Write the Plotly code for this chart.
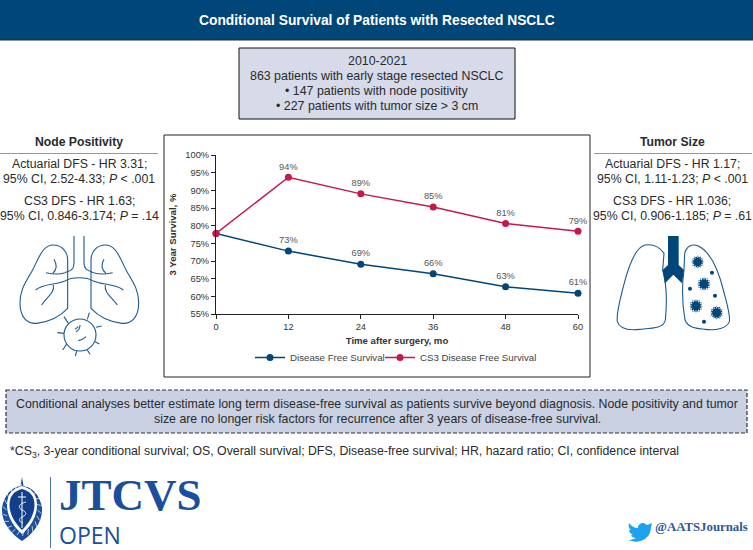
import math
import re
import plotly.graph_objects as go

W, H = 753, 550
# plot area in page pixels
L, R, T, B = 216, 578, 155, 314

months = [0, 12, 24, 36, 48, 60]
dfs = [77.8, 72.8, 69.1, 66.4, 62.7, 60.9]
cs3_dfs = [77.8, 93.7, 89.0, 85.3, 80.6, 78.4]
# first point (month 0) carries no label
dfs_labels = ["73%", "69%", "66%", "63%", "61%"]
cs3_labels = ["94%", "89%", "85%", "81%", "79%"]
y_ticks = [55, 60, 65, 70, 75, 80, 85, 90, 95, 100]

NAVY = "#004679"
ICON = "#1d5a8c"
CRIMSON = "#c8174a"
FONT = "Liberation Sans"
TEXT = "#2a2a2a"


def px(x):
    return (x - L) / (R - L)


def py(y):
    return (B - y) / (B - T)


def path(d, x0=0, y0=0, k=1.0):
    # svg style path in page pixels -> paper coordinates
    parts = re.findall(r"[MLCQZ]|-?[\d.]+", d)
    out, is_x = [], True
    for p in parts:
        if p in "MLCQZ":
            out.append(p)
            is_x = True
        elif is_x:
            out.append(f"{px(x0 + float(p) * k):.5f},")
            is_x = False
        else:
            out.append(f"{py(y0 + float(p) * k):.5f}")
            is_x = True
    return " ".join(out)


shapes = []
notes = []


def add_path(d, x0=0, y0=0, k=1.0, fill=None, line=None, width=1.0):
    shapes.append(dict(type="path", path=path(d, x0, y0, k), xref="paper", yref="paper",
                       fillcolor=fill or "rgba(0,0,0,0)",
                       line=dict(color=line or "rgba(0,0,0,0)", width=width if line else 0)))


def add_box(x0, y0, x1, y1, fill, line=None, width=1.0, dash="solid"):
    shapes.append(dict(type="rect", xref="paper", yref="paper", x0=px(x0), x1=px(x1), y0=py(y0), y1=py(y1),
                       fillcolor=fill, layer="below",
                       line=dict(color=line or "rgba(0,0,0,0)", width=width if line else 0, dash=dash)))


def add_text(x, y, s, size=11.6, color=TEXT, anchor="center", family=FONT):
    notes.append(dict(x=px(x), y=py(y), xref="paper", yref="paper", text=s, showarrow=False,
                      xanchor=anchor, yanchor="middle", font=dict(size=size, color=color, family=family)))


def circle(cx, cy, r):
    c = 0.5523 * r
    return (f"M{cx - r} {cy} C{cx - r} {cy - c} {cx - c} {cy - r} {cx} {cy - r} "
            f"C{cx + c} {cy - r} {cx + r} {cy - c} {cx + r} {cy} "
            f"C{cx + r} {cy + c} {cx + c} {cy + r} {cx} {cy + r} "
            f"C{cx - c} {cy + r} {cx - r} {cy + c} {cx - r} {cy} Z")


def virus(cx, cy, r, spikes=12):
    d = circle(cx, cy, r)
    for i in range(spikes):
        a = 2 * math.pi * i / spikes
        d += (f" M{cx + r * 0.8 * math.cos(a - 0.14):.2f} {cy + r * 0.8 * math.sin(a - 0.14):.2f}"
              f" L{cx + r * 1.3 * math.cos(a):.2f} {cy + r * 1.3 * math.sin(a):.2f}"
              f" L{cx + r * 0.8 * math.cos(a + 0.14):.2f} {cy + r * 0.8 * math.sin(a + 0.14):.2f} Z")
    return d


# header and boxes
add_box(-1, -1, 754, 40, NAVY, "#1d2b38", 1)
add_text(377, 20, "<b>Conditional Survival of Patients with Resected NSCLC</b>", 13.8, "white")
add_box(239, 48, 515, 119, "#d6dae9", "#111111", 1)
for y, s in zip([61, 76, 91, 106], ["2010-2021", "863 patients with early stage resected NSCLC",
                                    "• 147 patients with node positivity",
                                    "• 227 patients with tumor size &gt; 3 cm"]):
    add_text(377, y, s, 12.4)
add_box(164, 135, 590, 377, "white", "#222222", 1)
add_box(6, 390, 747, 433, "#c9d1e3", "#333333", 1.2, "4px,2px")
add_text(377, 404, "Conditional analyses better estimate long term disease-free survival as patients survive beyond diagnosis. Node positivity and tumor", 12.35)
add_text(377, 419, "size are no longer risk factors for recurrence after 3 years of disease-free survival.", 12.35)
add_text(8, 452, "*CS<sub>3</sub>, 3-year conditional survival; OS, Overall survival; DFS, Disease-free survival; HR, hazard ratio; CI, confidence interval", 12.3, anchor="left")

# side columns
add_text(79, 142, "<b>Node Positivity</b>", 12.2)
add_box(0, 153, 158, 153.6, "#333333")
add_text(79, 164, "Actuarial DFS - HR 3.31;", 12.3)
add_text(79, 179, "95% CI, 2.52-4.33; <i>P</i> &lt; .001", 12.3)
add_text(79, 201, "CS3 DFS - HR 1.63;", 12.3)
add_text(79, 216, "95% CI, 0.846-3.174; <i>P</i> = .14", 12.3)

add_text(672, 142, "<b>Tumor Size</b>", 12.2)
add_box(594, 153, 752, 153.6, "#333333")
add_text(672, 164, "Actuarial DFS - HR 1.17;", 12.3)
add_text(672, 179, "95% CI, 1.11-1.23; <i>P</i> &lt; .001", 12.3)
add_text(672, 201, "CS3 DFS - HR 1.036;", 12.3)
add_text(672, 216, "95% CI, 0.906-1.185; <i>P</i> = .61", 12.3)

# left lungs, drawn in zoomed units
k = 1 / 3
lx, ly = 0, 120
left_lung = ("M203 565 L203 420 C203 395 185 375 160 375 C125 375 115 420 95 455 C75 490 60 510 60 550 "
             "C60 590 80 612 110 610 C150 605 180 590 203 565 Z")
right_lung = ("M273 565 L273 420 C273 395 291 375 316 375 C351 375 361 420 381 455 C401 490 416 510 416 550 "
              "C416 590 396 612 366 610 C326 605 296 590 273 565 Z")
airways = ["M222 348 L222 430 C222 450 210 452 195 458 C175 465 155 462 138 458",
           "M252 348 L252 430 C252 450 266 452 281 458 C301 465 321 462 338 458",
           "M107 510 C130 490 170 495 195 483 C215 470 260 470 280 483 C305 495 345 490 370 510",
           "M160 495 C165 520 140 530 125 555", "M316 495 C312 520 335 530 352 555",
           "M162 418 C172 435 170 450 158 460", "M312 418 C302 435 306 450 318 460"]
for d in [left_lung, right_lung] + airways:
    add_path(d, lx, ly, k, line=ICON, width=1.1)
add_path(circle(240, 645, 48), lx, ly, k, line=ICON, width=1.1)
spikes = ["M205 610 L192 590", "M262 598 L268 578", "M288 622 L305 618", "M192 640 L172 638",
          "M200 672 L188 690", "M230 693 L226 708", "M262 690 L270 703", "M285 665 L298 672",
          "M228 635 C240 630 240 622 240 615", "M235 662 C248 660 252 655 258 650", "M225 628 L235 620"]
for d in spikes:
    add_path(d, lx, ly, k, line=ICON, width=1.1)

# right lungs
rx, ry = 590, 120
add_path("M222 400 C205 375 185 372 165 375 C135 382 115 440 100 500 C90 540 78 580 82 605 "
         "C88 625 115 632 150 628 C185 625 222 625 226 600 C230 560 232 500 218 450 Z",
         rx, ry, k, line=ICON, width=1.1)
add_path("M284 400 C290 378 305 370 325 378 C360 395 385 450 400 510 C410 550 422 585 418 605 "
         "C410 625 380 632 345 628 C320 625 295 625 285 600 C278 560 275 500 282 450 Z",
         rx, ry, k, line=ICON, width=1.1)
add_path("M234 348 L266 348 L266 435 L282 450 L276 490 L250 464 L225 490 L218 450 L234 435 Z",
         rx, ry, k, fill=NAVY)
for cx, cy, r in [(323, 426, 16), (342, 492, 17), (318, 558, 17), (380, 578, 17)]:
    add_path(virus(cx, cy, r), rx, ry, k, fill=NAVY)
for cx, cy in [(366, 458), (300, 506), (375, 527), (342, 605)]:
    add_path(circle(cx, cy, 6), rx, ry, k, fill=NAVY)

# journal logo: wreath, white ring, dark shield, staff and snake
LOGO = "#1a4f9c"
add_path("M22 477 L23.5 486 C32 487 40 495 42 508 C43 523 32 534 22 541 C12 534 1 523 2 508 "
         "C4 495 12 487 20.5 486 Z", fill=LOGO)
for i in range(22):
    a = 2 * math.pi * (i + 0.5) / 22
    add_path(f"M{22 + 15.5 * math.sin(a):.2f} {510 - 21 * math.cos(a):.2f} "
             f"L{22 + 19 * math.sin(a + 0.12):.2f} {510 - 26 * math.cos(a + 0.12):.2f}", line="white", width=0.7)
add_path("M22 486 C30 488 37 493 37 505 C37 518 29 528 22 534 C15 528 7 518 7 505 C7 493 14 488 22 486 Z", fill="white")
add_path("M22 489 C29 491 34.5 495 34.5 505 C34.5 516 27 525 22 530 C17 525 9.5 516 9.5 505 C9.5 495 15 491 22 489 Z", fill="#123f8a")
add_path("M22 492 L22 528", line="white", width=1)
add_path("M18 497 L26 497", line="white", width=1)
add_path("M26 502 C18 504 18 508 22 510 C27 512 27 515 22 517 C18 519 19 522 23 523", line="white", width=0.9)
add_box(50, 477, 50.8, 548, LOGO)
add_text(57, 495, "<b>JTCVS</b>", 45, LOGO, "left", "Liberation Serif")
add_text(57, 534.5, "OPEN", 23, LOGO, "left", "Open Sans")

add_path("M652 523 C650 524 648 525 647 525 C645 523 642 522 640 524 C638 525 638 527 638 528 "
         "C634 528 631 526 629 523 C628 526 629 529 631 530 C630 530 629 530 629 530 C629 532 631 534 633 535 "
         "C632 535 631 535 631 535 C632 537 633 538 636 538 C634 539 632 540 629 540 C640 545 651 538 651 527 "
         "C651 526 652 525 652 523 Z", fill="#1da1f2")
add_text(653, 527, "<b>@AATSJournals</b>", 12.8, "#2a5a9a", "left", "Liberation Serif")

fig = go.Figure()
fig.add_trace(go.Scatter(x=months, y=dfs, name="Disease Free Survival", mode="lines+markers", cliponaxis=False,
                         line=dict(color=NAVY, width=1.5), marker=dict(color=NAVY, size=7), legend="legend"))
fig.add_trace(go.Scatter(x=months, y=cs3_dfs, name="CS3 Disease Free Survival", mode="lines+markers", cliponaxis=False,
                         line=dict(color=CRIMSON, width=1.5), marker=dict(color=CRIMSON, size=7), legend="legend2"))
# value labels, month 0 left out; clear marker keeps the text above the dot
for ys, labels in [(dfs, dfs_labels), (cs3_dfs, cs3_labels)]:
    fig.add_trace(go.Scatter(x=months[1:], y=ys[1:], mode="markers+text", text=labels, textposition="top center",
                             marker=dict(size=7, opacity=0),
                             textfont=dict(size=9.3, color="#555555", family=FONT), cliponaxis=False,
                             showlegend=False, hoverinfo="skip"))

legend_style = dict(orientation="h", xanchor="left", yanchor="top", bgcolor="rgba(0,0,0,0)",
                    font=dict(size=9.7, color="#444444"), itemwidth=30)

fig.update_layout(
    width=W, height=H, autosize=False,
    margin=dict(l=L, r=W - R, t=T, b=H - B, pad=0),
    paper_bgcolor="white", plot_bgcolor="white",
    font=dict(family=FONT, size=9.3, color="#333333"),
    shapes=shapes, annotations=notes,
    legend=dict(x=px(250), y=py(343), **legend_style),
    legend2=dict(x=px(380), y=py(343), **legend_style),
    xaxis=dict(range=[0, 60], tickvals=months, ticks="outside", ticklen=4, tickcolor="#222222",
               showline=True, linecolor="#222222", linewidth=1, showgrid=False, zeroline=False,
               title=dict(text="<b>Time after surgery, mo</b>", font=dict(size=9.6, color="#333333"), standoff=6)),
    yaxis=dict(range=[55, 100], tickvals=y_ticks, ticktext=[f"{v}%" for v in y_ticks], ticks="outside",
               ticklen=4, tickcolor="#222222", showline=True, linecolor="#222222", linewidth=1,
               showgrid=False, zeroline=False,
               title=dict(text="<b>3 Year Survival, %</b>", font=dict(size=9.6, color="#333333"), standoff=6)),
)

# page body has a default margin, drop it so the figure sits at 0,0
fig.write_html("out.html", config=dict(displayModeBar=False), post_script="document.body.style.margin='0';")
